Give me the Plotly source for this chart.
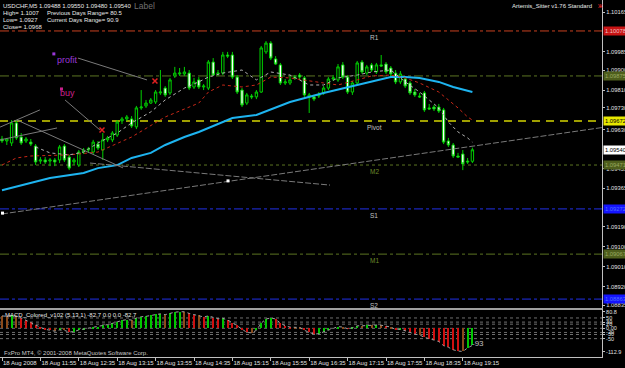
import plotly.graph_objects as go
import pandas as pd

# ---------------- data ----------------
bar_start = "2008-08-18 11:15"
n_bars = 99
times = pd.date_range(bar_start, periods=n_bars, freq="5min")

opens = [1.09589,1.09580,1.09571,1.09662,1.09598,1.09580,1.09575,1.09557,1.09489,1.09494,
         1.09489,1.09494,1.09494,1.09557,1.09507,1.09485,1.09471,1.09530,1.09539,1.09530,
         1.09566,1.09539,1.09585,1.09585,1.09607,1.09671,1.09680,1.09680,1.09644,1.09730,
         1.09739,1.09752,1.09757,1.09798,1.09820,1.09798,1.09875,1.09884,1.09884,1.09888,
         1.09825,1.09857,1.09825,1.09820,1.09938,1.09884,1.09888,1.09970,1.09970,1.09870,
         1.09811,1.09752,1.09784,1.09780,1.09802,1.09984,1.10024,1.09952,1.09925,1.09843,
         1.09843,1.09866,1.09879,1.09866,1.09780,1.09780,1.09784,1.09798,1.09820,1.09861,
         1.09857,1.09925,1.09870,1.09802,1.09843,1.09938,1.09888,1.09925,1.09893,1.09925,
         1.09929,1.09911,1.09888,1.09848,1.09861,1.09843,1.09802,1.09784,1.09798,1.09730,
         1.09734,1.09734,1.09721,1.09580,1.09562,1.09512,1.09521,1.09489,1.09488]
highs = [1.09603,1.09594,1.09675,1.09675,1.09616,1.09598,1.09589,1.09566,1.09507,1.09507,
         1.09503,1.09503,1.09562,1.09566,1.09517,1.09503,1.09539,1.09548,1.09553,1.09585,
         1.09580,1.09616,1.09603,1.09625,1.09675,1.09689,1.09698,1.09693,1.09739,1.09811,
         1.09766,1.09775,1.09811,1.09902,1.09829,1.09866,1.09916,1.09911,1.09916,1.09902,
         1.09866,1.09870,1.09838,1.09947,1.09956,1.09902,1.09984,1.09984,1.09984,1.09879,
         1.09820,1.09798,1.09793,1.09811,1.10011,1.10033,1.10033,1.09965,1.09934,1.09861,
         1.09875,1.09879,1.09888,1.09875,1.09798,1.09789,1.09802,1.09829,1.09870,1.09879,
         1.09929,1.09938,1.09879,1.09852,1.09943,1.09947,1.09925,1.09934,1.09934,1.09970,
         1.09938,1.09920,1.09902,1.09897,1.09870,1.09852,1.09816,1.09798,1.09807,1.09748,
         1.09743,1.09748,1.09730,1.09594,1.09571,1.09526,1.09539,1.09503,1.09550]
lows = [1.09571,1.09562,1.09557,1.09585,1.09562,1.09571,1.09557,1.09471,1.09476,1.09476,
        1.09466,1.09466,1.09480,1.09485,1.09448,1.09471,1.09462,1.09521,1.09526,1.09521,
        1.09539,1.09494,1.09575,1.09575,1.09598,1.09657,1.09671,1.09639,1.09634,1.09721,
        1.09730,1.09748,1.09748,1.09789,1.09780,1.09789,1.09866,1.09875,1.09875,1.09811,
        1.09816,1.09816,1.09811,1.09811,1.09875,1.09875,1.09879,1.09956,1.09861,1.09793,
        1.09734,1.09743,1.09770,1.09770,1.09798,1.09975,1.09947,1.09925,1.09834,1.09834,
        1.09834,1.09857,1.09861,1.09780,1.09707,1.09761,1.09775,1.09789,1.09811,1.09852,
        1.09848,1.09861,1.09793,1.09789,1.09834,1.09884,1.09879,1.09893,1.09884,1.09916,
        1.09884,1.09875,1.09838,1.09838,1.09820,1.09789,1.09780,1.09775,1.09712,1.09721,
        1.09716,1.09707,1.09566,1.09553,1.09503,1.09503,1.09448,1.09476,1.09480]
closes = [1.09580,1.09589,1.09662,1.09594,1.09571,1.09589,1.09566,1.09485,1.09494,1.09485,
          1.09494,1.09485,1.09553,1.09494,1.09457,1.09494,1.09530,1.09539,1.09544,1.09575,
          1.09548,1.09585,1.09594,1.09616,1.09666,1.09680,1.09689,1.09648,1.09730,1.09734,
          1.09752,1.09766,1.09802,1.09802,1.09789,1.09857,1.09888,1.09888,1.09893,1.09820,
          1.09848,1.09825,1.09829,1.09938,1.09879,1.09888,1.09970,1.09965,1.09870,1.09802,
          1.09743,1.09789,1.09780,1.09802,1.10002,1.10024,1.09956,1.09929,1.09843,1.09848,
          1.09857,1.09870,1.09870,1.09789,1.09789,1.09770,1.09789,1.09820,1.09861,1.09866,
          1.09916,1.09870,1.09802,1.09843,1.09934,1.09893,1.09916,1.09902,1.09925,1.09920,
          1.09893,1.09884,1.09848,1.09884,1.09829,1.09798,1.09789,1.09780,1.09721,1.09725,
          1.09725,1.09716,1.09575,1.09562,1.09512,1.09507,1.09476,1.09485,1.09540]

# moving averages (bar index, value)
ma_slow_idx = [0,6,10,17,20,24,27,31,34,38,41,48,53,60,67,74,81,84,87,91,94,98]
ma_slow_val = [1.09357,1.09389,1.09412,1.09435,1.09457,1.09471,1.09503,1.09526,1.09562,1.09598,
               1.09621,1.09684,1.09698,1.09757,1.09798,1.09834,1.09870,1.09870,1.09866,1.09848,
               1.09825,1.09802]
ma_mid_idx = [0,3,6,14,20,27,34,41,43,46,50,53,56,60,67,70,74,77,81,84,87,91,93,95,97,98]
ma_mid_val = [1.09471,1.09503,1.09512,1.09517,1.09530,1.09598,1.09689,1.09752,1.09802,1.09834,
              1.09825,1.09834,1.09870,1.09866,1.09843,1.09834,1.09857,1.09875,1.09879,1.09866,
              1.09843,1.09802,1.09766,1.09730,1.09689,1.09675]
ma_fast_idx = [7,10,14,17,20,24,27,31,34,38,41,43,46,50,53,56,60,64,67,70,74,77,81,84,87,91,93,95,97,98]
ma_fast_val = [1.09553,1.09526,1.09517,1.09530,1.09571,1.09616,1.09662,1.09712,1.09766,1.09820,
               1.09848,1.09870,1.09888,1.09902,1.09857,1.09893,1.09879,1.09834,1.09834,1.09866,
               1.09879,1.09893,1.09902,1.09848,1.09802,1.09730,1.09666,1.09621,1.09594,1.09575]

# pivot levels
level_prices = [1.10079, 1.09875, 1.09671, 1.09471, 1.09272, 1.09067, 1.08863]
level_labels = ["R1", "", "Pivot", "M2", "S1", "M1", "S2"]
level_box_text = ["1.10078", "1.09875", "1.09672", "1.09471", "1.09272", "1.09067", "1.08863"]
current_price = 1.09540

# right axis ticks
price_ticks = [1.10165, 1.09985, 1.09900, 1.09810, 1.09730, 1.09630, 1.09455,
               1.09365, 1.09190, 1.09100, 1.09010, 1.08920, 1.08835]

# MACD histogram
macd = [60,58,62,60,50,38,30,15,5,-5,-10,-14,-8,-10,-18,-16,-8,-4,0,6,
        8,14,18,24,32,38,42,40,50,56,58,62,68,70,66,72,78,80,80,72,
        66,62,55,60,52,46,48,40,28,14,-4,-20,-22,-10,25,45,50,45,25,12,
        6,5,4,-10,-20,-28,-26,-18,-8,0,8,6,-2,2,12,12,14,14,16,15,
        10,6,-6,-4,-12,-20,-28,-32,-44,-50,-58,-64,-84,-92,-104,-110,-112,-95,-82.7]
macd_levels = [50, 30, 20, 0, -20, -30, -50]
macd_ticks = [80.8, 50, 30, 20, 0, -20, -30, -50, -112.9]
macd_ticktext = ["80.8", "50", "30", "20", "0.00", "-20", "-30", "-50", "-112.9"]

# time axis labels
time_ticks = ["2008-08-18 11:15", "2008-08-18 11:55", "2008-08-18 12:35", "2008-08-18 13:15",
              "2008-08-18 13:55", "2008-08-18 14:35", "2008-08-18 15:15", "2008-08-18 15:55",
              "2008-08-18 16:35", "2008-08-18 17:15", "2008-08-18 17:55", "2008-08-18 18:35",
              "2008-08-18 19:15"]
time_ticktext = ["18 Aug 2008", "18 Aug 11:55", "18 Aug 12:35", "18 Aug 13:15", "18 Aug 13:55",
                 "18 Aug 14:35", "18 Aug 15:15", "18 Aug 15:55", "18 Aug 16:35", "18 Aug 17:15",
                 "18 Aug 17:55", "18 Aug 18:35", "18 Aug 19:15"]

# drawn trend lines: (t0, p0, t1, p1)
trend_lines = [
    ("2008-08-18 11:15:00", 1.09249, "2008-08-18 21:40:00", 1.09641),
    ("2008-08-18 12:46:40", 1.09480, "2008-08-18 16:56:40", 1.09380),
    ("2008-08-18 11:13:00", 1.09643, "2008-08-18 11:54:30", 1.09721),
    ("2008-08-18 11:13:00", 1.09585, "2008-08-18 12:12:20", 1.09639),
    ("2008-08-18 11:30:40", 1.09675, "2008-08-18 13:21:00", 1.09458),
    ("2008-08-18 12:34:10", 1.09956, "2008-08-18 13:46:00", 1.09857),
    ("2008-08-18 12:20:40", 1.09766, "2008-08-18 12:57:00", 1.09630),
]
white_dots_t = ["2008-08-18 11:15:30", "2008-08-18 15:10:25"]
white_dots_p = [1.09253, 1.09399]
red_marks_t = ["2008-08-18 13:54:20", "2008-08-18 12:59:10"]
red_marks_p = [1.09852, 1.09630]
text_objs = [("profit", "2008-08-18 12:10", 1.09947, "#9a38d8"),
             ("buy", "2008-08-18 12:13", 1.09798, "#c8208c")]
text_dots_t = ["2008-08-18 12:09", "2008-08-18 12:17"]
text_dots_p = [1.09975, 1.09816]

# ---------------- figure ----------------
W, H = 625, 368
FONT = "Liberation Sans"
x_right = 602 / W
x_range = ["2008-08-18 11:12:55", "2008-08-18 21:40:00"]

fig = go.Figure()

fig.add_trace(go.Scatter(x=times[ma_slow_idx], y=ma_slow_val, mode="lines",
                         line=dict(color="#1eb4f0", width=2), xaxis="x", yaxis="y", hoverinfo="skip"))
fig.add_trace(go.Scatter(x=times[ma_mid_idx], y=ma_mid_val, mode="lines",
                         line=dict(color="#c82818", width=1, dash="dot"), xaxis="x", yaxis="y", hoverinfo="skip"))
fig.add_trace(go.Scatter(x=times[ma_fast_idx], y=ma_fast_val, mode="lines",
                         line=dict(color="#b0b0b0", width=1, dash="dot"), xaxis="x", yaxis="y", hoverinfo="skip"))

for k, (t0, p0, t1, p1) in enumerate(trend_lines):
    fig.add_trace(go.Scatter(x=[t0, t1], y=[p0, p1], mode="lines",
                             line=dict(color="#7a7a7a", width=1, dash="6px,2px" if k < 2 else "solid"),
                             xaxis="x", yaxis="y", hoverinfo="skip"))

fig.add_trace(go.Candlestick(
    x=times, open=opens, high=highs, low=lows, close=closes,
    increasing=dict(line=dict(color="#00d000", width=1), fillcolor="#000000"),
    decreasing=dict(line=dict(color="#00d000", width=1), fillcolor="#ffffff"),
    whiskerwidth=0, xaxis="x", yaxis="y", hoverinfo="skip"))

fig.add_trace(go.Scatter(x=white_dots_t, y=white_dots_p, mode="markers",
                         marker=dict(color="#ffffff", size=3, symbol="square"),
                         xaxis="x", yaxis="y", hoverinfo="skip"))
fig.add_trace(go.Scatter(x=red_marks_t, y=red_marks_p, mode="markers",
                         marker=dict(color="#e02020", size=5, symbol="x-thin", line=dict(color="#e02020", width=1.5)),
                         xaxis="x", yaxis="y", hoverinfo="skip"))
fig.add_trace(go.Scatter(x=text_dots_t, y=text_dots_p, mode="markers",
                         marker=dict(color=["#9a38d8", "#c8208c"], size=3, symbol="square"),
                         xaxis="x", yaxis="y", hoverinfo="skip"))

# MACD
colors = []
for k, v in enumerate(macd):
    prev = macd[k - 1] if k > 0 else v
    d = v - prev
    if d > 0:
        colors.append("#00c800")
    elif abs(d) <= 4:
        colors.append("#8b4a1a")
    else:
        colors.append("#d01010")
fig.add_trace(go.Bar(x=times, y=macd, marker=dict(color=colors, line=dict(width=0)),
                     width=60000, xaxis="x2", yaxis="y2", hoverinfo="skip"))
fig.add_trace(go.Scatter(x=times, y=macd, mode="lines", line=dict(color="#a0a0a0", width=1, dash="dot"),
                         xaxis="x2", yaxis="y2", hoverinfo="skip"))

shapes = []
level_colors = ["#c84020", "#5c7422", "#d4d400", "#5c7422", "#2030e8", "#5c7422", "#2030e8"]
level_dash = ["dashdot", "dashdot", "8px,6px", "dot", "dashdot", "dashdot", "dashdot"]
level_width = [1, 1, 1.6, 1, 1, 1, 1]
for p, c, d, w in zip(level_prices, level_colors, level_dash, level_width):
    shapes.append(dict(type="line", xref="x domain", yref="y", x0=0, x1=1, y0=p, y1=p,
                       line=dict(color=c, width=w, dash=d), layer="below"))
for lv in macd_levels:
    shapes.append(dict(type="line", xref="x2 domain", yref="y2", x0=0, x1=1, y0=lv, y1=lv,
                       line=dict(color="#707070", width=1, dash="dot"), layer="below"))

annotations = []
small = dict(family=FONT, size=6, color="#e8e8e8")
def ann(text, px, py, font=None, xanchor="left"):
    annotations.append(dict(text=text, x=px / W, y=1 - py / H, xref="paper", yref="paper",
                            xanchor=xanchor, yanchor="middle", showarrow=False,
                            font=font or small))

ann("USDCHF,M5 1.09488 1.09550 1.09480 1.09540", 1, 6)
ann("Label", 132, 6, dict(family=FONT, size=8.5, color="#707070"))
ann("High= 1.1007", 1, 13)
ann("Previous Days Range= 80.5", 45, 13)
ann("Low= 1.0927", 1, 20)
ann("Current Days Range= 90.9", 45, 20)
ann("Close= 1.0968", 1, 27)
ann("Artemis_Sitter v1.76 Standard", 594, 6, xanchor="right")
ann("ж", 596, 6, dict(family=FONT, size=7, color="#e02020"))
ann("MACD_Colored_v102 (5,13,1) -82.7 0.0 0.0 -82.7", 3, 315)
ann("FxPro MT4, © 2001-2008 MetaQuotes Software Corp.", 2, 353, dict(family=FONT, size=6, color="#c8c8c8"))

label_colors = ["#c0c0c0", "#5c7422", "#c0c0c0", "#6e8a2a", "#c0c0c0", "#6e8a2a", "#c0c0c0"]
for lab, p, c in zip(level_labels, level_prices, label_colors):
    if lab:
        annotations.append(dict(text=lab, x="2008-08-18 17:43", y=p, xref="x", yref="y",
                                xanchor="center", yanchor="top", yshift=-1, showarrow=False,
                                font=dict(family=FONT, size=6.5, color=c)))

box_bg = ["#c81414", "#4e5e1c", "#e8e800", "#4e5e1c", "#1414ff", "#4e5e1c", "#1414ff"]
box_fg = ["#f0c0c0", "#9aa860", "#000000", "#9aa860", "#5070ff", "#9aa860", "#5070ff"]
for t, p, bg, fg in zip(level_box_text, level_prices, box_bg, box_fg):
    annotations.append(dict(text=t, x=603 / W, y=p, xref="paper", yref="y", xanchor="left",
                            yanchor="middle", showarrow=False, bgcolor=bg, borderpad=1,
                            font=dict(family=FONT, size=5.8, color=fg)))
annotations.append(dict(text=f"{current_price:.5f}", x=603 / W, y=current_price, xref="paper", yref="y",
                        xanchor="left", yanchor="middle", showarrow=False, bgcolor="#ffffff",
                        borderpad=1, font=dict(family=FONT, size=5.8, color="#000000")))

for txt, t, p, c in text_objs:
    annotations.append(dict(text=txt, x=t, y=p, xref="x", yref="y", xanchor="left",
                            yanchor="middle", showarrow=False,
                            font=dict(family=FONT, size=9, color=c)))
annotations.append(dict(text="-93", x="2008-08-18 19:22", y=-72, xref="x2", yref="y2",
                        xanchor="left", yanchor="middle", showarrow=False,
                        font=dict(family=FONT, size=8, color="#c0c0c0")))

y_top_px, y_split_px, m_top_px, m_bot_px = 0, 308, 309, 357
def p2price(py):
    return 1.10165 - (py - 12) / 22050.0
def p2macd(py):
    return (328.3 - py) * 4.84

fig.update_layout(
    width=W, height=H, margin=dict(l=0, r=0, t=0, b=0),
    paper_bgcolor="#000000", plot_bgcolor="#000000",
    showlegend=False, bargap=0,
    font=dict(family=FONT, size=6, color="#e0e0e0"),
    xaxis=dict(domain=[0, x_right], range=x_range, anchor="y", showticklabels=False,
               showgrid=False, zeroline=False, rangeslider=dict(visible=False),
               showline=True, linecolor="#a0a0a0", linewidth=2, ticks=""),
    yaxis=dict(domain=[1 - y_split_px / H, 1 - y_top_px / H],
               range=[p2price(y_split_px), p2price(y_top_px)], side="right", anchor="x",
               tickvals=price_ticks, ticktext=[f"{v:.5f}" for v in price_ticks],
               ticks="outside", ticklen=2, tickcolor="#c0c0c0",
               tickfont=dict(family=FONT, size=5.8, color="#e0e0e0"),
               showgrid=False, zeroline=False, showline=True, linecolor="#c0c0c0", linewidth=1,
               automargin=False),
    xaxis2=dict(domain=[0, x_right], range=x_range, anchor="y2", matches="x",
                tickvals=time_ticks, ticktext=time_ticktext, ticks="outside", ticklen=3,
                tickcolor="#c0c0c0", ticklabelposition="outside right", tickangle=0,
                tickfont=dict(family=FONT, size=6, color="#e0e0e0"),
                showgrid=False, zeroline=False, showline=True, linecolor="#c0c0c0",
                automargin=False),
    yaxis2=dict(domain=[1 - m_bot_px / H, 1 - m_top_px / H],
                range=[p2macd(m_bot_px), p2macd(m_top_px)], side="right", anchor="x2",
                tickvals=macd_ticks, ticktext=macd_ticktext, ticks="outside", ticklen=2,
                tickcolor="#c0c0c0", tickfont=dict(family=FONT, size=5.5, color="#e0e0e0"),
                showgrid=False, zeroline=False, showline=True, linecolor="#c0c0c0",
                automargin=False),
    shapes=shapes, annotations=annotations,
)

fig.write_html("out.html")
